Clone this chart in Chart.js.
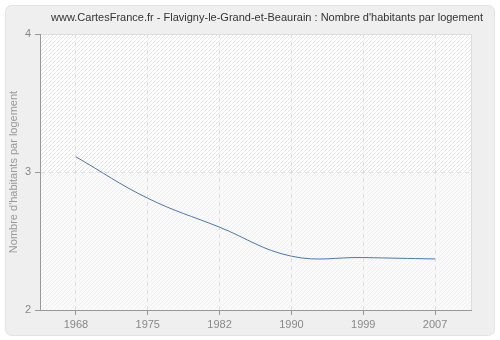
<!DOCTYPE html>
<html>
<head>
<meta charset="utf-8">
<script src="https://cdn.jsdelivr.net/npm/chart.js@4.4.1/dist/chart.umd.min.js"></script>
<style>
html,body{margin:0;padding:0;background:#fff;}
#wrap{width:500px;height:340px;position:relative;}
</style>
</head>
<body>
<div id="wrap"><canvas id="c" width="500" height="340"></canvas></div>
<script>
const chartTitle = "www.CartesFrance.fr - Flavigny-le-Grand-et-Beaurain : Nombre d'habitants par logement";
const yAxisTitle = "Nombre d'habitants par logement";
const years = ["1968", "1975", "1982", "1990", "1999", "2007"];
const habitantsParLogement = [3.11, 2.81, 2.60, 2.39, 2.38, 2.37];
const yTicks = [2, 3, 4];

const FONT = "'Liberation Sans', Arial, sans-serif";

function hatch(bg, line) {
  const p = document.createElement('canvas');
  p.width = 4; p.height = 4;
  const g = p.getContext('2d');
  g.fillStyle = bg; g.fillRect(0, 0, 4, 4);
  g.fillStyle = line;
  for (let i = 0; i < 4; i++) { g.fillRect(3 - i, i, 1, 1); }
  return p;
}

const bgPlugin = {
  id: 'bgPanel',
  beforeDraw(chart) {
    const ctx = chart.ctx, a = chart.chartArea;
    ctx.save();
    ctx.fillStyle = '#ffffff';
    ctx.fillRect(0, 0, chart.width, chart.height);
    const x = 5.5, y = 5.5, w = 489, h = 330, r = 6;
    ctx.beginPath();
    ctx.moveTo(x + r, y);
    ctx.arcTo(x + w, y, x + w, y + h, r);
    ctx.arcTo(x + w, y + h, x, y + h, r);
    ctx.arcTo(x, y + h, x, y, r);
    ctx.arcTo(x, y, x + w, y, r);
    ctx.closePath();
    ctx.fillStyle = '#efefef';
    ctx.fill();
    ctx.strokeStyle = '#e4e4e4';
    ctx.lineWidth = 1;
    ctx.stroke();
    const ys = chart.scales.y;
    const mid = ys.getPixelForValue(3);
    const pTop = ctx.createPattern(hatch('#ffffff', '#e6e6e6'), 'repeat');
    const pBot = ctx.createPattern(hatch('#fafafa', '#f0f0f0'), 'repeat');
    ctx.fillStyle = pTop;
    ctx.fillRect(a.left, a.top, a.right - a.left, mid - a.top);
    ctx.fillStyle = pBot;
    ctx.fillRect(a.left, mid, a.right - a.left, a.bottom - mid);
    ctx.strokeStyle = '#dddddd';
    ctx.beginPath();
    ctx.moveTo(a.left, a.top + 0.5);
    ctx.lineTo(a.right + 0.5, a.top + 0.5);
    ctx.lineTo(a.right + 0.5, a.bottom);
    ctx.stroke();
    ctx.fillStyle = '#333333';
    ctx.font = "11px " + FONT;
    ctx.textAlign = 'center';
    ctx.textBaseline = 'middle';
    ctx.fillText(chartTitle, 267, 18);
    ctx.restore();
  }
};

new Chart(document.getElementById('c'), {
  type: 'line',
  data: {
    labels: years,
    datasets: [{
      data: habitantsParLogement,
      borderColor: '#4a78b2',
      borderWidth: 1,
      pointRadius: 0,
      fill: false,
      tension: 0.4
    }]
  },
  options: {
    responsive: false,
    animation: false,
    devicePixelRatio: 1,
    layout: { padding: { left: 0, right: 29, top: 34, bottom: 0 } },
    plugins: { legend: { display: false }, tooltip: { enabled: false }, title: { display: false } },
    scales: {
      x: {
        type: 'category',
        offset: true,
        afterFit(s) { s.height = 30; },
        grid: { offset: false, color: '#dedede', lineWidth: 1, tickLength: 5, tickColor: '#999999', drawTicks: true },
        border: { display: true, color: '#999999', width: 1, dash: [4, 4] },
        ticks: { color: '#888888', font: { family: FONT, size: 11 }, padding: 3, autoSkip: false, maxRotation: 0 }
      },
      y: {
        min: 2, max: 4,
        afterFit(s) { s.width = 40; },
        afterBuildTicks(s) { s.ticks = yTicks.map(v => ({ value: v })); },
        grid: { color: '#dedede', lineWidth: 1, tickLength: 5, tickColor: '#999999', drawTicks: true },
        border: { display: true, color: '#999999', width: 1, dash: [4, 4] },
        ticks: { color: '#888888', font: { family: FONT, size: 11 }, padding: 4 },
        title: { display: true, text: yAxisTitle, color: '#999999', font: { family: FONT, size: 11 }, padding: { top: 7, bottom: 0 } }
      }
    }
  },
  plugins: [bgPlugin]
});
</script>
</body>
</html>
